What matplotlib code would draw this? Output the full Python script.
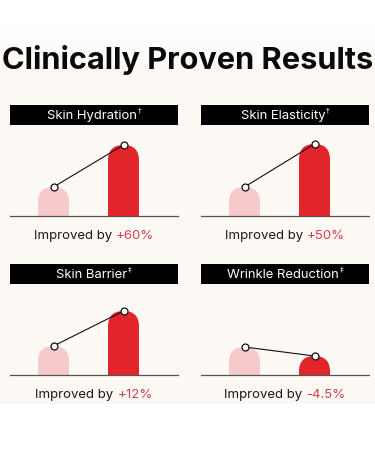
import matplotlib.pyplot as plt
import numpy as np
from matplotlib.patches import FancyBboxPatch, Rectangle

# values (bar heights in px above the baseline)
metrics = ["Skin Hydration", "Skin Elasticity", "Skin Barrier", "Wrinkle Reduction"]
marks = ["\u2020", "\u2020", "\u2021", "\u2021"]
before = [29, 29, 29, 28]
after = [71, 72, 64, 19]
improvement = ["+60%", "+50%", "+12%", "-4.5%"]

W, H = 375, 450
BG = "#fcf8f4"
PINK = "#f6caca"
RED = "#e2252b"
TXT_RED = "#d3434c"
FONT = "Inter"

fig = plt.figure(figsize=(W / 100, H / 100), dpi=100)
fig.patch.set_facecolor("white")


def frac(x0, y0, w, h):
    return [x0 / W, 1 - (y0 + h) / H, w / W, h / H]


bg = fig.add_axes([0, 0, 1, 1])
bg.set_xlim(0, W)
bg.set_ylim(H, 0)
bg.axis("off")

# background: white fading into off-white, white strip at the bottom
c0 = np.array([1.0, 1.0, 1.0])
c1 = np.array(plt.matplotlib.colors.to_rgb(BG))
ys = np.arange(H)
t = np.clip((ys - 25) / 55.0, 0, 1)
t[ys >= 404] = 0
grad = c0[None, :] * (1 - t[:, None]) + c1[None, :] * t[:, None]
bg.imshow(grad[:, None, :], extent=(0, W, H, 0), aspect="auto", zorder=0)

bg.text(W / 2, 69, "Clinically Proven Results", ha="center", va="baseline",
        fontsize=22.1, fontweight="bold", family=FONT, color="#0a0a0a")

fig.canvas.draw()
renderer = fig.canvas.get_renderer()

panel_w = 168
lefts = [10, 201, 10, 201]
tops = [105, 105, 264, 264]
bar_w = 31
plot_h = 86

for i, name in enumerate(metrics):
    x0 = lefts[i]
    top = tops[i]
    cx = x0 + panel_w / 2
    baseline = top + 111

    # label box
    bg.add_patch(Rectangle((x0, top), panel_w, 20, facecolor="black", zorder=2))
    lab = bg.text(cx, top + 10.5, name, ha="center", va="center", color="white",
                  fontsize=9.4, family=FONT, zorder=3)
    bb = lab.get_window_extent(renderer)
    sup_w = 4
    lab.set_x(cx - sup_w / 2)
    bg.text(cx - sup_w / 2 + bb.width / 2 + 0.5, top + 5.5, marks[i], ha="left",
            va="center", color="white", fontsize=5, family=["DejaVu Sans"], zorder=3)

    # bars
    ax = fig.add_axes(frac(x0, baseline - plot_h, panel_w, plot_h))
    ax.set_xlim(0, panel_w)
    ax.set_ylim(0, plot_h)
    ax.axis("off")
    vals = [before[i], after[i]]
    xs = [43.5, 113.5]
    r = bar_w / 2
    for xc, v, col in zip(xs, vals, [PINK, RED]):
        ax.add_patch(FancyBboxPatch((xc - r, -r), bar_w, v + r,
                                    boxstyle=f"round,pad=0,rounding_size={r}",
                                    facecolor=col, edgecolor="none", zorder=1))
    ax.plot(xs, vals, color="#111111", lw=0.8, zorder=3,
            marker="o", ms=5, mfc="white", mec="#111111", mew=0.9)
    ax.axhline(0, color="#555555", lw=0.9, clip_on=False, zorder=2)

    # improvement text, two colours
    ty = baseline + 20
    t1 = bg.text(0, ty, "Improved by ", ha="left", va="center", fontsize=9.5,
                 family=FONT, color="#1a1a1a")
    t2 = bg.text(0, ty, improvement[i], ha="left", va="center", fontsize=9.5,
                 family=FONT, color=TXT_RED)
    w1 = t1.get_window_extent(renderer).width
    w2 = t2.get_window_extent(renderer).width
    start = cx - (w1 + w2) / 2
    t1.set_x(start)
    t2.set_x(start + w1)

fig.savefig("out.png", dpi=100, facecolor="white")
